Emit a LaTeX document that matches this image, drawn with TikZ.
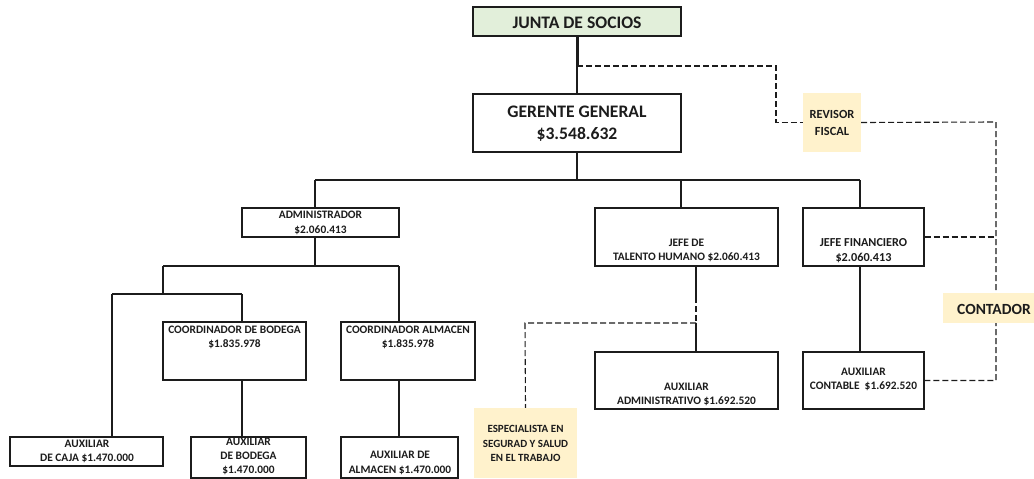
\documentclass[tikz,border=0pt]{standalone}
\usepackage{fontspec}
\setmainfont{Carlito}
\definecolor{juntagreen}{HTML}{E2EFDA}
\definecolor{notebeige}{HTML}{FFF2CC}
\definecolor{ink}{HTML}{1C1C1C}
\begin{document}
\begin{tikzpicture}[x=1pt,y=-1pt,
  box/.style={draw=ink,line width=1.3pt,inner sep=0pt,fill=white},
  note/.style={fill=notebeige,draw=none,inner sep=0pt},
  lbl/.style={text=ink,align=center,inner sep=0pt,font=\fontsize{11.4}{14.5}\selectfont\bfseries},
  biglbl/.style={text=ink,align=center,inner sep=0pt,font=\fontsize{17.6}{22}\selectfont\bfseries},
  conn/.style={draw=ink,line width=1.1pt},
  dconn/.style={draw=ink,line width=1.1pt,dash pattern=on 6pt off 3pt}]
\useasboundingbox (0,0) rectangle (1034,479);

% boxes
\node[box,fill=juntagreen,minimum width=208pt,minimum height=29pt] (junta) at (577,21.5) {};
\node[biglbl] (tjunta) at (577,23) {JUNTA DE SOCIOS};
\node[box,minimum width=208pt,minimum height=58pt] (ger) at (577,123) {};
\node[biglbl] (tger) at (577,124) {GERENTE GENERAL\\\$3.548.632};
\node[note,minimum width=58pt,minimum height=59pt] (rev) at (832,122.5) {};
\node[lbl,font=\fontsize{12.4}{17}\selectfont\bfseries] (trev) at (832,122.5) {REVISOR\\FISCAL};

\node[box,minimum width=157pt,minimum height=29pt] (admin) at (320.5,222.5) {};
\node[lbl] (tadmin) at (320.5,223) {ADMINISTRADOR\\\$2.060.413};
\node[box,minimum width=183pt,minimum height=58pt] (jth) at (686.5,237) {};
\node[lbl] (tjth) at (686.5,250.5) {JEFE DE\\TALENTO HUMANO \$2.060.413};
\node[box,minimum width=121pt,minimum height=58pt] (jfin) at (863.5,237) {};
\node[lbl,font=\fontsize{12.2}{14.5}\selectfont\bfseries] (tjfin) at (863.5,250.5) {JEFE FINANCIERO\\\$2.060.413};

\node[box,minimum width=143pt,minimum height=58pt] (coordb) at (234.5,351) {};
\node[lbl] (tcoordb) at (234.5,337.5) {COORDINADOR DE BODEGA\\\$1.835.978};
\node[box,minimum width=134pt,minimum height=58pt] (coorda) at (408,351) {};
\node[lbl] (tcoorda) at (408,337.5) {COORDINADOR ALMACEN\\\$1.835.978};

\node[box,minimum width=183pt,minimum height=57pt] (auxadm) at (686.5,380.5) {};
\node[lbl] (tauxadm) at (686.5,394.5) {AUXILIAR\\ADMINISTRATIVO \$1.692.520};
\node[box,minimum width=121pt,minimum height=57pt] (auxcont) at (863.5,380.5) {};
\node[lbl] (tauxcont) at (863.5,379.5) {AUXILIAR\\CONTABLE\ \ \$1.692.520};

\node[box,minimum width=153pt,minimum height=29pt] (auxcaja) at (86.5,451.5) {};
\node[lbl] (tauxcaja) at (87,451.5) {AUXILIAR\\DE CAJA \$1.470.000};
\node[box,minimum width=115pt,minimum height=41pt] (auxbod) at (248.5,457.5) {};
\node[lbl,font=\fontsize{11.4}{14}\selectfont\bfseries] (tauxbod) at (248.5,456) {AUXILIAR\\DE BODEGA\\\$1.470.000};
\node[box,minimum width=117pt,minimum height=41pt] (auxalm) at (399.5,457.5) {};
\node[lbl] (tauxalm) at (400,463) {AUXILIAR DE\\ALMACEN \$1.470.000};

\node[note,minimum width=103pt,minimum height=70pt] (espec) at (525.5,443) {};
\node[lbl,font=\fontsize{11}{14.5}\selectfont\bfseries] (tespec) at (525.5,443.5) {ESPECIALISTA EN\\SEGURAD Y SALUD\\EN EL TRABAJO};

% junction coordinates
\coordinate (j1) at (577,66);
\coordinate (r1) at (776,66);
\coordinate (c1) at (996,122);
\coordinate (g1) at (577,180);
\coordinate (ga) at (315,180);
\coordinate (gt) at (681,180);
\coordinate (gf) at (860,180);
\coordinate (a1) at (315,266);
\coordinate (aL) at (163,266);
\coordinate (aR) at (399,266);
\coordinate (b1) at (163,294);
\coordinate (bL) at (112,294);
\coordinate (bR) at (242,294);
\coordinate (t1) at (696,297);
\coordinate (t2) at (696,323);
\coordinate (e1) at (525,323);

% connectors
\draw[draw=ink,line width=3pt] (junta.south) -- (j1);
\draw[conn] (j1) -- (ger.north);
\draw[dconn] (j1) -- (r1) |- (rev.west);
\draw[dconn] (rev.east) -- (c1) |- (auxcont.east);
\draw[dconn] (jfin.east) -- (jfin.east -| c1);

\draw[conn] (ger.south) -- (g1);
\draw[conn] (ga) -- (gf);
\draw[conn] (ga) -- (ga |- admin.north);
\draw[conn] (gt) -- (gt |- jth.north);
\draw[conn] (gf) -- (gf |- jfin.north);

\draw[conn] (a1 |- admin.south) -- (a1);
\draw[conn] (aL) -- (aR);
\draw[conn] (aR) -- (aR |- coorda.north);
\draw[conn] (aL) -- (b1);
\draw[conn] (bL) -- (bR);
\draw[conn] (bL) -- (bL |- auxcaja.north);
\draw[conn] (bR) -- (bR |- coordb.north);
\draw[conn] (bR |- coordb.south) -- (bR |- auxbod.north);
\draw[conn] (aR |- coorda.south) -- (aR |- auxalm.north);

\draw[conn] (t1 |- jth.south) -- (t1);
\draw[dconn] (t1) -- (t2);
\draw[conn] (t2) -- (t2 |- auxadm.north);
\draw[dconn] (t2) -- (e1) -- (espec.north);
\draw[conn] (gf |- jfin.south) -- (gf |- auxcont.north);

% contador on top of its dashed line
\node[note,minimum width=91pt,minimum height=30pt] (cont) at (988.5,308) {};
\node[text=ink,inner sep=0pt,font=\fontsize{15.5}{19}\selectfont\bfseries] (tcont) at (994,309) {CONTADOR};
\end{tikzpicture}
\end{document}
